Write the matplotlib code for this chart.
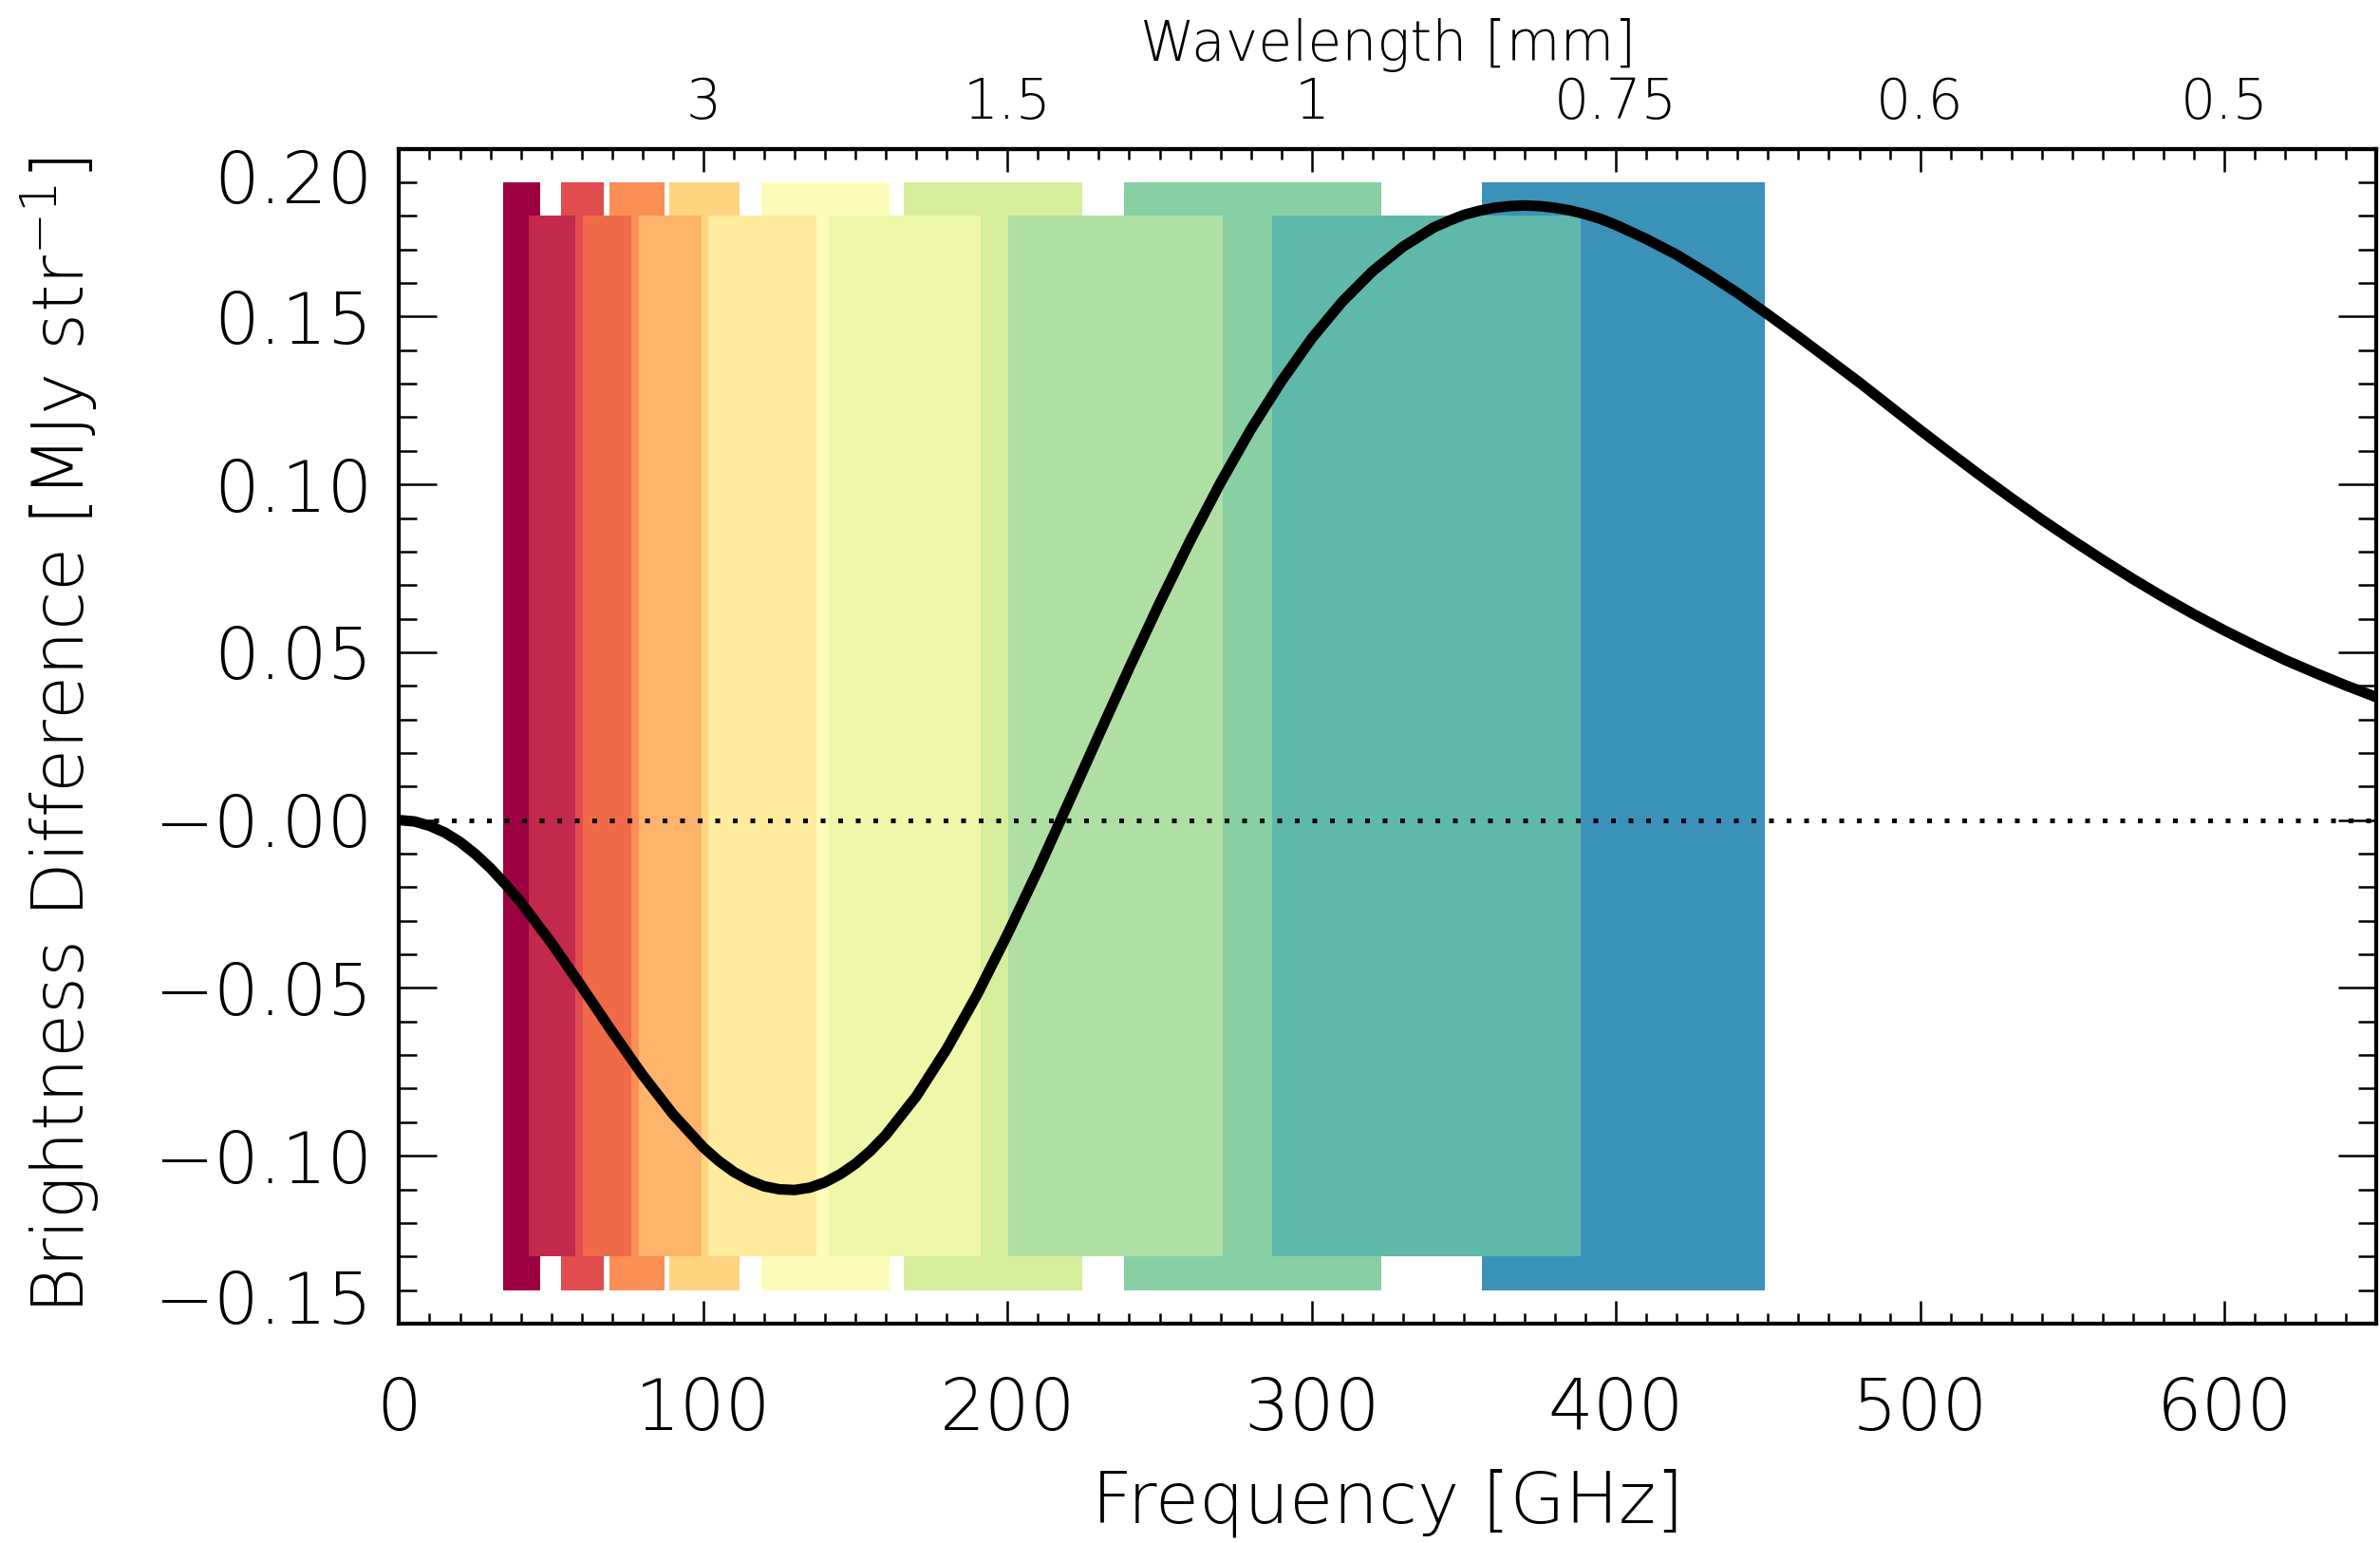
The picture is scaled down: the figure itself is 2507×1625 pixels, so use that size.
import numpy as np
import matplotlib
matplotlib.use("Agg")
import matplotlib.pyplot as plt

plt.rcParams['font.family'] = ['DejaVu Sans']
plt.rcParams['font.weight'] = 200
plt.rcParams['axes.labelweight'] = 200
plt.rcParams['mathtext.default'] = 'regular'

# frequency bands [GHz]: tall set and short set
tall_lo = [34.3, 53.3, 69.2, 88.9, 119.0, 166.0, 238.4, 356.1]
tall_hi = [46.3, 67.2, 87.3, 111.8, 161.2, 224.7, 322.8, 448.9]
tall_col = ['#9e0142', '#e04c4f', '#fb8f55', '#fed480', '#fefcbb', '#d6ee9b',
            '#88cfa4', '#3b92b8']
short_lo = [42.7, 60.4, 78.9, 101.5, 141.3, 200.1, 286.9]
short_hi = [57.9, 76.2, 99.4, 137.1, 191.2, 270.6, 388.5]
short_col = ['#c2294a', '#f06a48', '#fdb46a', '#feeb9e', '#eff7a8', '#b0dfa3',
             '#5fb9aa']

# brightness difference curve
nu = [0, 5, 10, 15, 20, 25, 30, 35, 40, 50, 60, 70, 80, 90, 100, 105, 110,
      115, 120, 125, 130, 135, 140, 145, 150, 155, 160, 170, 180, 190, 200,
      210, 220, 230, 240, 250, 260, 270, 280, 290, 300, 310, 320, 330, 340,
      345, 350, 355, 360, 365, 370, 375, 380, 385, 390, 395, 400, 410, 420,
      430, 440, 450, 460, 470, 480, 490, 500, 510, 520, 530, 540, 550, 560,
      570, 580, 590, 600, 610, 620, 630, 640, 650]
dI = [0.0, -0.0004, -0.0017, -0.0037, -0.0065, -0.0101, -0.0143, -0.0192,
      -0.0245, -0.0365, -0.0496, -0.0630, -0.0759, -0.0876, -0.0975, -0.1015,
      -0.1048, -0.1073, -0.1091, -0.1100, -0.1102, -0.1095, -0.1079, -0.1055,
      -0.1024, -0.0985, -0.0938, -0.0823, -0.0682, -0.0520, -0.0340, -0.0149,
      0.0051, 0.0253, 0.0453, 0.0647, 0.0832, 0.1005, 0.1164, 0.1307, 0.1435,
      0.1544, 0.1635, 0.1708, 0.1765, 0.1785, 0.1803, 0.1815, 0.1824, 0.1829,
      0.1831, 0.1829, 0.1824, 0.1816, 0.1805, 0.1791, 0.1773, 0.1731, 0.1684,
      0.1629, 0.1570, 0.1506, 0.1440, 0.1372, 0.1304, 0.1233, 0.1162, 0.1093,
      0.1025, 0.0959, 0.0895, 0.0834, 0.0775, 0.0718, 0.0664, 0.0613, 0.0565,
      0.0520, 0.0477, 0.0438, 0.0401, 0.0366]

yticks = [-0.15, -0.10, -0.05, 0.0, 0.05, 0.10, 0.15, 0.20]
ylabels = ['\u22120.15', '\u22120.10', '\u22120.05', '\u22120.00',
           '0.05', '0.10', '0.15', '0.20']
xticks = [0, 100, 200, 300, 400, 500, 600]
wl_ticks = [100, 200, 300, 400, 500, 600]
wl_labels = ['3', '1.5', '1', '0.75', '0.6', '0.5']

fig = plt.figure(figsize=(25.07, 16.25), dpi=100)
ax = fig.add_axes([0.1677, 0.1422, 0.8308, 0.7614])

tall_lo = np.array(tall_lo); tall_hi = np.array(tall_hi)
short_lo = np.array(short_lo); short_hi = np.array(short_hi)
ax.bar(tall_lo, 0.33, width=tall_hi - tall_lo, bottom=-0.14, align='edge',
       color=tall_col, linewidth=0, zorder=1)
ax.bar(short_lo, 0.31, width=short_hi - short_lo, bottom=-0.13, align='edge',
       color=short_col, linewidth=0, zorder=2)

ax.plot([0, 650], [0, 0], color='black', lw=3.6, linestyle=(0, (1, 2.7)), zorder=3)
ax.plot(nu, dI, color='black', lw=8, solid_joinstyle='round', zorder=4)

ax.set_xlim(0, 650)
ax.set_ylim(-0.15, 0.20)
ax.set_xticks(xticks)
ax.set_xticks(np.arange(0, 651, 10), minor=True)
ax.set_yticks(yticks)
ax.set_yticklabels(ylabels)
ax.set_yticks(np.arange(-0.15, 0.2001, 0.01), minor=True)

for s in ax.spines.values():
    s.set_linewidth(3)

ax.tick_params(axis='both', which='both', direction='in', width=1.8,
               labelsize=54, right=True)
ax.tick_params(axis='x', which='major', length=17, pad=40)
ax.tick_params(axis='x', which='minor', length=8)
ax.tick_params(axis='y', which='major', length=29, pad=20)
ax.tick_params(axis='y', which='minor', length=14)

# end labels sit inside the axis range
lab = ax.get_yticklabels()
lab[0].set_verticalalignment('baseline')
lab[-1].set_verticalalignment('top')

top = ax.secondary_xaxis('top')
top.set_xticks(wl_ticks)
top.set_xticklabels(wl_labels)
top.set_xticks(np.arange(0, 651, 10), minor=True)
top.tick_params(axis='x', which='both', direction='in', width=1.8, labelsize=42)
top.tick_params(axis='x', which='major', length=17, pad=14)
top.tick_params(axis='x', which='minor', length=8)
top.spines['top'].set_linewidth(3)

ax.set_xlabel('Frequency [GHz]', fontsize=54, va='center')
ax.xaxis.set_label_coords(0.5, -0.1528)
ax.set_ylabel('Brightness Difference [MJy str$^{-1}$]', fontsize=54, va='center')
ax.yaxis.set_label_coords(-0.1712, 0.5)
ax.text(0.5, 1.088, 'Wavelength [mm]', transform=ax.transAxes, fontsize=42,
        ha='center', va='center')

fig.savefig('out.png', dpi=100)
